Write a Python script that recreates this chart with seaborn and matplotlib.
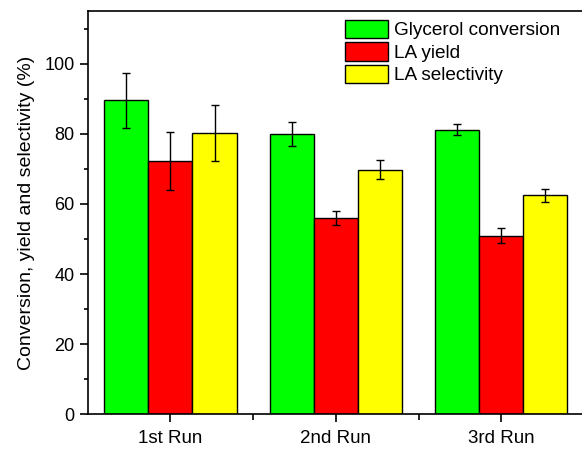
import numpy as np
import pandas as pd
import matplotlib
matplotlib.use("Agg")
import matplotlib.pyplot as plt
import seaborn as sns
from matplotlib.ticker import MultipleLocator, FixedLocator

runs = ["1st Run", "2nd Run", "3rd Run"]
series = ["Glycerol conversion", "LA yield", "LA selectivity"]
glycerol_conv = [89.5, 80.0, 81.2]
la_yield = [72.2, 55.9, 50.9]
la_select = [80.3, 69.7, 62.4]
glycerol_err = [7.8, 3.4, 1.7]
yield_err = [8.2, 2.0, 2.1]
select_err = [8.0, 2.7, 1.9]
colors = ["#00FF00", "#FF0000", "#FFFF00"]

sns.set_style("ticks")
plt.rcParams["font.family"] = ["Liberation Sans", "DejaVu Sans"]
plt.rcParams["text.color"] = "black"
plt.rcParams["axes.labelcolor"] = "black"
plt.rcParams["xtick.color"] = "black"
plt.rcParams["ytick.color"] = "black"

df = pd.DataFrame({
    "Run": runs * 3,
    "Series": [s for s in series for _ in runs],
    "Value": glycerol_conv + la_yield + la_select,
    "Err": glycerol_err + yield_err + select_err,
})

fig = plt.figure(figsize=(5.82, 4.49), dpi=100)
ax = fig.add_axes([87.7 / 582, 34.7 / 449, (584 - 87.7) / 582, (414.3 - 11) / 449])

sns.barplot(data=df, x="Run", y="Value", hue="Series", order=runs,
            hue_order=series, palette=colors, saturation=1, errorbar=None,
            edgecolor="black", linewidth=1.0, width=0.8, ax=ax)

# error bars at bar centres
for s_i, s in enumerate(series):
    cont = ax.containers[s_i]
    sub = df[df["Series"] == s].set_index("Run").loc[runs]
    xs = [p.get_x() + p.get_width() / 2 for p in cont.patches]
    ax.errorbar(xs, sub["Value"].values, yerr=sub["Err"].values, fmt="none",
                ecolor="black", elinewidth=1.0, capsize=2.7, capthick=1.0, zorder=5)

ax.set_xlim(-0.5, 2.5)
ax.set_ylim(0, 115)
ax.yaxis.set_major_locator(MultipleLocator(20))
ax.yaxis.set_minor_locator(MultipleLocator(10))
ax.xaxis.set_minor_locator(FixedLocator([0.5, 1.5]))
ax.set_xlabel("")
ax.set_ylabel("Conversion, yield and selectivity (%)", fontsize=14, labelpad=7)
ax.tick_params(axis="y", which="major", direction="out", length=5.5, width=1.2, labelsize=13, pad=4)
ax.tick_params(axis="y", which="minor", direction="out", length=2.8, width=1.2)
ax.tick_params(axis="x", which="major", direction="out", length=6, width=1.2, labelsize=13.5, pad=5)
ax.tick_params(axis="x", which="minor", direction="out", length=4, width=1.2)
for sp in ax.spines.values():
    sp.set_visible(True)
    sp.set_linewidth(1.2)
    sp.set_color("black")

leg = ax.legend(loc="upper left", bbox_to_anchor=(345 / 582, 1 - 19.5 / 449),
                bbox_transform=fig.transFigure, frameon=False, fontsize=13.7,
                handlelength=2.25, handleheight=1.12, handletextpad=0.35,
                labelspacing=0.15, borderpad=0, borderaxespad=0)

fig.savefig("out.png", dpi=100)
